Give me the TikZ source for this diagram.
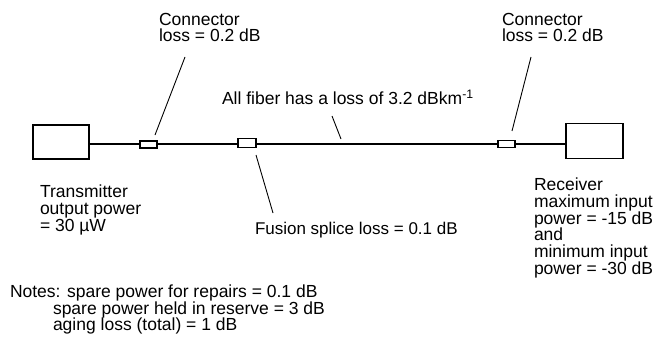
\documentclass[tikz,border=0pt]{standalone}
\usepackage{fontspec}
\setmainfont{Liberation Sans}
\begin{document}
\begin{tikzpicture}[x=1pt,y=-1pt,
  every node/.style={inner sep=0pt, outer sep=0pt},
  lbl/.style={anchor=north west, align=left, font=\fontsize{17.5}{16.7}\selectfont},
  unit/.style={draw, line width=1.2pt, minimum width=56pt, minimum height=34pt},
  joint/.style={draw, line width=1.1pt, minimum width=17pt, minimum height=7pt, fill=white},
  fiber/.style={line width=1.4pt},
  leader/.style={line width=0.9pt}]
\useasboundingbox (0,0) rectangle (668,337);
% units
\node[unit] (tx) at (61,142) {};
\node[unit, minimum width=57pt, minimum height=35pt] (rx) at (594.5,141) {};
% fiber
\coordinate (fl) at (tx.east |- 0,144);
\coordinate (fr) at (rx.west |- 0,144);
\draw[fiber] (fl) -- (fr);
% joints
\node[joint] (c1) at (148.5,144.5) {};
\node[joint, minimum width=18pt, minimum height=9pt] (sp) at (247,143) {};
\node[joint] (c2) at (506.5,144) {};
% labels
\node[lbl] (c1l) at (159,13) {Connector\\loss = 0.2 dB};
\node[lbl] (c2l) at (502,13) {Connector\\loss = 0.2 dB};
\node[lbl] (fib) at (222,90) {All fiber has a loss of 3.2 dBkm\textsuperscript{-1}};
\node[lbl, font=\fontsize{17}{16}\selectfont] (spl) at (255,222) {Fusion splice loss = 0.1 dB};
\node[lbl] (txl) at (40,185) {Transmitter\\output power\\= 30 µW};
\node[lbl] (rxl) at (534,178) {Receiver\\maximum input\\power = -15 dB\\and\\minimum input\\power = -30 dB};
\node[lbl] (n1) at (10,285) {Notes: spare power for repairs = 0.1 dB};
\node[lbl] (n2) at (53,301.5) {spare power held in reserve = 3 dB};
\node[lbl] (n3) at (53,318) {aging loss (total) = 1 dB};
% leader lines
\coordinate (c1a) at (185,57);
\coordinate (c1b) at (155,135);
\draw[leader] (c1a) -- (c1b);
\coordinate (c2a) at (531,57);
\coordinate (c2b) at (512,131);
\draw[leader] (c2a) -- (c2b);
\coordinate (fa) at (332,116);
\coordinate (fb) at (341,139);
\draw[leader] (fa) -- (fb);
\coordinate (sa) at (256,155);
\coordinate (sb) at (273,213);
\draw[leader] (sa) -- (sb);
\end{tikzpicture}
\end{document}
